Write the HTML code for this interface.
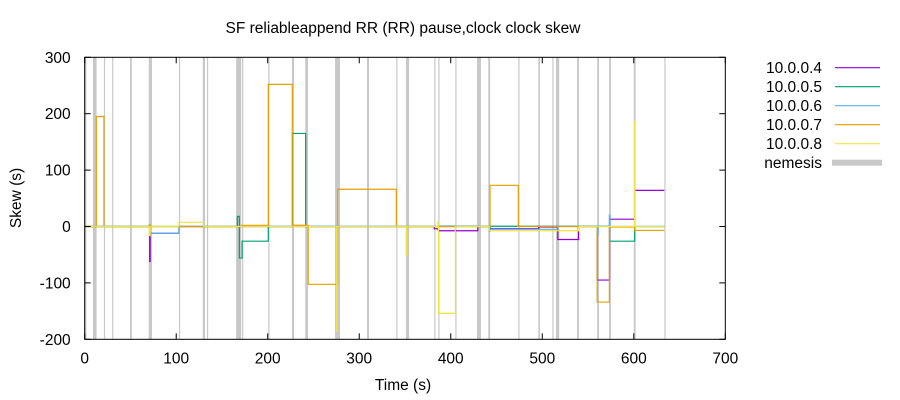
<!DOCTYPE html>
<html><head><meta charset="utf-8"><style>
body{margin:0;background:#fff;}
svg{display:block;font-family:"Liberation Sans",sans-serif;}
</style></head><body>
<svg id="chart" width="900" height="400" viewBox="0 0 900 400" xmlns="http://www.w3.org/2000/svg">
<text x="403" y="33" font-size="15.5" text-anchor="middle">SF reliableappend RR (RR) pause,clock clock skew</text>
<text x="403" y="390" font-size="15.5" text-anchor="middle">Time (s)</text>
<text x="21" y="198" font-size="15.5" text-anchor="middle" transform="rotate(-90 21 198)">Skew (s)</text>
<g id="nem"></g>
<g id="series"></g>
<g id="axes"></g>
<g id="legend"></g>
</svg>
<script>
const xTicks=[0,100,200,300,400,500,600,700];
const yTicks=[-200,-100,0,100,200,300];
const nemStart=[0.5,9,21,30,49.5,70,103,129,133.6,165.5,172,200.6,226.5,241,273.6,308.5,340.5,351,382,386.4,405,428.7,441,473.8,495.7,511,515,538,560,573,600,633.4];
const nemEnd=[0.5,13,21,30,51.5,73.5,103,131.5,133.6,171,172,200.6,228.7,244,279,310.7,340.5,354.5,382,386.4,405,433,443,473.8,497.5,511,518.5,540,562,575,602,633.4];
const names=["10.0.0.4","10.0.0.5","10.0.0.6","10.0.0.7","10.0.0.8"];
const colors=["#9400d3","#009e73","#56b4e9","#e69f00","#f0e442"];
const t4=[0,71,71.5,103,382,386.4,429.6,442,496,517,539.7,560,573.5,601,633.4];
const v4=[0,-62,-12,0,-4,-7.5,0,-4,-1,-23,0,-95,13,64,64];
const t5=[0,166.8,169,172,200.6,227,241.5,442,443,573.5,601,633.4];
const v5=[0,18,-56,-26,0,165,0,-8,0.5,-26,0,0];
const t6=[0,71,103,227,241.5,276.4,386.4,429.6,442,517,560,561,573.3,574,633.4];
const v6=[0,-12,0,2,0.5,0,1,0,-5,0,-15,0,20,0,0];
const t7=[0,12.7,21,70.5,71.5,171,200.6,226.8,244.2,276.4,340.5,442.9,473.8,560,573.3,601,633.4];
const v7=[0,195,0,3,0,2,252,2,-102.5,66,0,73,0,-134,-1,-7,-7];
const t8=[0,70.5,71.5,103,130,275.3,275.8,351.3,351.8,386,386.6,405,442,539.7,600.8,601.3,633.4];
const v8=[0,-16,0,7.4,0,-185,0,-51,0,8,-154,0,-7.5,0,186,0,0];
const T=[t4,t5,t6,t7,t8], V=[v4,v5,v6,v7,v8];

const L=84.7,R=725.3,TOP=57.3,BOT=339.3;
const xs=t=>L+(t-0)/700*(R-L);
const ys=v=>BOT-(v+200)/500*(BOT-TOP);
const NS="http://www.w3.org/2000/svg";
function mk(tag,attrs,parent){const e=document.createElementNS(NS,tag);for(const k in attrs)e.setAttribute(k,attrs[k]);parent.appendChild(e);return e;}

const nem=document.getElementById('nem');
nemStart.forEach((s,i)=>{
  const x0=xs(s),x1=xs(nemEnd[i]);
  const w=Math.max(1.2,x1-x0);
  const r=mk('rect',{x:x0,y:TOP,width:w,height:BOT-TOP,fill:'#c8c8c8'},nem);
  
  
});

const sg=document.getElementById('series');
T.forEach((ts,si)=>{
  const vs=V[si];let d='';
  for(let i=0;i<ts.length;i++){
    const x=xs(ts[i]),y=ys(vs[i]);
    if(i===0)d+='M'+x+' '+y;
    else d+=' L'+x+' '+ys(vs[i-1])+' L'+x+' '+y;
  }
  const p=mk('path',{d:d,fill:'none',stroke:colors[si],'stroke-width':1.2},sg);
  
  
});

const ax=document.getElementById('axes');
const fr=mk('rect',{x:L,y:TOP,width:R-L,height:BOT-TOP,fill:'none',stroke:'#000','stroke-width':1},ax);


xTicks.forEach(t=>{
  const x=xs(t);
  mk('line',{x1:x,y1:BOT,x2:x,y2:BOT-6,stroke:'#000'},ax);
  mk('line',{x1:x,y1:TOP,x2:x,y2:TOP+6,stroke:'#000'},ax);
  const tx=mk('text',{x:x,y:BOT+24,'font-size':15.5,'text-anchor':'middle'},ax);
  tx.textContent=t;
  
  
});
yTicks.forEach(v=>{
  const y=ys(v);
  mk('line',{x1:L,y1:y,x2:L+6,y2:y,stroke:'#000'},ax);
  mk('line',{x1:R,y1:y,x2:R-6,y2:y,stroke:'#000'},ax);
  const tx=mk('text',{x:L-14,y:y+5.5,'font-size':15.5,'text-anchor':'end'},ax);
  tx.textContent=v;
  
  
});

const lg=document.getElementById('legend');
const labels=names.concat(['nemesis']);
labels.forEach((n,i)=>{
  const y=67.7+i*19;
  const tx=mk('text',{x:822,y:y+5.5,'font-size':15.5,'text-anchor':'end'},lg);
  tx.textContent=n;
  
  
  if(i<5){
    const l=mk('line',{x1:835,y1:y,x2:880,y2:y,stroke:colors[i],'stroke-width':1.2},lg);
    
    
  }else{
    const r=mk('rect',{x:832,y:y-3,width:50,height:6,fill:'#c8c8c8'},lg);
    
    
  }
});
</script>
</body></html>
